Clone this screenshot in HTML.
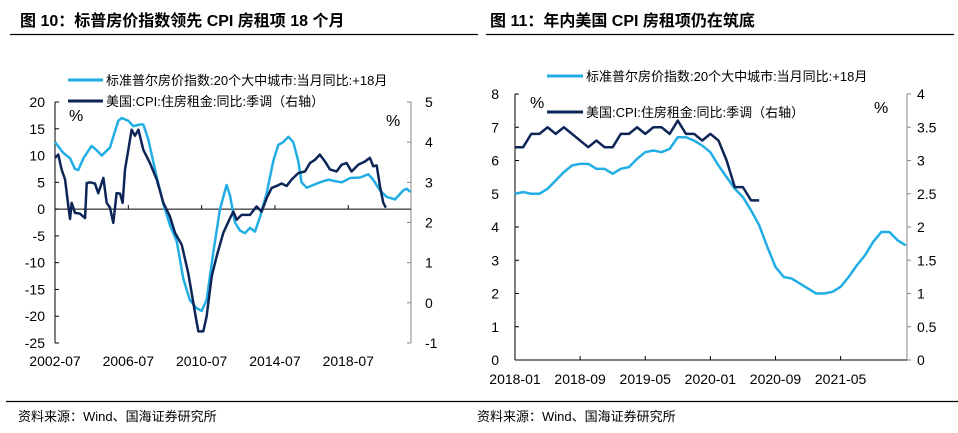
<!DOCTYPE html>
<html><head><meta charset="utf-8">
<style>
body{margin:0;background:#fff;}
svg{display:block;font-family:"Liberation Sans","Noto Sans CJK SC",sans-serif;}
</style></head>
<body>
<svg id="s" width="958" height="433" viewBox="0 0 958 433" xmlns="http://www.w3.org/2000/svg">
<text x="20" y="26" font-size="16" font-weight="bold">图 10：标普房价指数领先 CPI 房租项 18 个月</text>
<line x1="10" y1="34.5" x2="478" y2="34.5" stroke="#000" stroke-width="1.2"/>
<text x="490" y="26" font-size="16" font-weight="bold">图 11：年内美国 CPI 房租项仍在筑底</text>
<line x1="486" y1="34.5" x2="954" y2="34.5" stroke="#000" stroke-width="1.2"/>
<line x1="6" y1="401.5" x2="958" y2="401.5" stroke="#000" stroke-width="1.2"/>
<text x="18" y="421" font-size="13">资料来源：Wind、国海证券研究所</text>
<text x="477" y="421" font-size="13">资料来源：Wind、国海证券研究所</text>
<g id="c1"></g>
<g id="c2"></g>
</svg>
<script>
// ---- Left chart data (decimal years) ----
const c1LightYears=[2002.50,2002.95,2003.32,2003.59,2003.77,2004.05,2004.50,2004.77,2005.05,2005.50,2005.95,2006.14,2006.50,2006.77,2007.14,2007.32,2007.59,2008.05,2008.41,2008.77,2009.14,2009.50,2009.86,2010.23,2010.50,2010.77,2011.14,2011.50,2011.86,2012.05,2012.32,2012.59,2012.86,2013.14,2013.41,2013.68,2014.05,2014.41,2014.68,2014.95,2015.23,2015.50,2015.77,2015.95,2016.23,2016.59,2016.95,2017.41,2017.68,2018.14,2018.59,2019.14,2019.59,2019.86,2020.23,2020.59,2021.05,2021.50,2021.68,2021.90];
const c1LightValues=[12.5,10.5,9.5,7.5,7.3,9.5,11.8,11.0,10.0,11.5,16.5,17.0,16.5,15.5,15.8,15.8,13,6,1,-3,-6,-13,-17,-18.5,-19,-17,-8,0,4.5,2.5,-2.5,-4,-4.5,-3.5,-4.2,-1.5,3,9,12,12.5,13.5,12.5,9,5,4,4.5,5,5.5,5.3,5,5.8,5.9,6.5,5.5,3.5,2.3,1.8,3.5,3.8,3.2];
const c1DarkYears=[2002.50,2002.68,2002.86,2003.05,2003.23,2003.32,2003.41,2003.59,2003.86,2004.14,2004.23,2004.41,2004.68,2004.86,2005.14,2005.32,2005.50,2005.68,2005.86,2006.05,2006.19,2006.32,2006.50,2006.68,2006.86,2007.05,2007.32,2007.68,2008.05,2008.41,2008.77,2009.05,2009.41,2009.77,2010.14,2010.32,2010.59,2010.77,2011.05,2011.32,2011.68,2012.05,2012.23,2012.41,2012.68,2013.14,2013.50,2013.77,2014.05,2014.32,2014.59,2014.86,2015.14,2015.41,2015.77,2016.14,2016.41,2016.68,2016.95,2017.23,2017.50,2017.86,2018.14,2018.41,2018.68,2019.05,2019.41,2019.68,2019.86,2020.05,2020.23,2020.41,2020.55];
const c1DarkValues=[3.61,3.69,3.32,3.07,2.40,2.09,2.49,2.24,2.22,2.11,2.98,3.0,2.97,2.73,3.11,2.49,2.37,1.99,2.73,2.72,2.49,3.32,3.81,4.31,4.16,4.31,3.81,3.48,3.07,2.49,2.15,1.74,1.45,0.74,-0.25,-0.71,-0.71,-0.34,0.66,1.16,1.74,2.11,2.27,2.07,2.19,2.19,2.40,2.27,2.61,2.86,2.91,2.97,2.91,3.07,3.23,3.27,3.48,3.56,3.69,3.52,3.32,3.27,3.44,3.48,3.27,3.44,3.52,3.61,3.40,3.42,2.90,2.49,2.37];
const c1LeftTicks=[20,15,10,5,0,-5,-10,-15,-20,-25];
const c1RightTicks=[5,4,3,2,1,0,-1];
const c1XTickLabels=["2002-07","2006-07","2010-07","2014-07","2018-07"];
const c1XTickYears=[2002.5,2006.5,2010.5,2014.5,2018.5];
// ---- Right chart data (month index from 2018-01) ----
const c2LightValues=[5.0,5.05,5.0,5.0,5.15,5.4,5.65,5.85,5.9,5.9,5.75,5.75,5.6,5.75,5.8,6.05,6.25,6.3,6.25,6.35,6.7,6.7,6.6,6.45,6.25,5.85,5.5,5.15,4.9,4.5,4.05,3.4,2.8,2.5,2.45,2.3,2.15,2.0,2.0,2.05,2.2,2.5,2.85,3.15,3.55,3.85,3.85,3.6,3.45];
const c2DarkValues=[3.2,3.2,3.4,3.4,3.5,3.4,3.5,3.4,3.3,3.2,3.3,3.2,3.2,3.4,3.4,3.5,3.4,3.5,3.5,3.4,3.6,3.4,3.4,3.3,3.4,3.3,3.0,2.6,2.6,2.4,2.4];
const c2LeftTicks=[8,7,6,5,4,3,2,1,0];
const c2RightTicks=["4","3.5","3","2.5","2","1.5","1","0.5","0"];
const c2XTickLabels=["2018-01","2018-09","2019-05","2020-01","2020-09","2021-05"];
const c2XTickMonths=[0,8,16,24,32,40];

const NS="http://www.w3.org/2000/svg";
function mk(parent,tag,attrs,text){const e=document.createElementNS(NS,tag);for(const k in attrs)e.setAttribute(k,attrs[k]);if(text!==undefined)e.textContent=text;parent.appendChild(e);return e;}
const LIGHT="#22aee5",DARK="#0d2557";

// ===== Left chart =====
(function(){
const g=document.getElementById('c1');
const X0=55,X1=411,Y0=102,Y1=343;
const xs=y=>X0+(y-2002.5)*18.33;
const yl=v=>Y0+(20-v)*(Y1-Y0)/45;
const yr=v=>Y0+(5-v)*(Y1-Y0)/6;
let ax=mk(g,'line',{x1:X0,y1:Y0,x2:X0,y2:Y1,stroke:'#000','stroke-width':1});

let ax2=mk(g,'line',{x1:X1,y1:Y0,x2:X1,y2:Y1,stroke:'#888','stroke-width':1});

let zl=mk(g,'line',{x1:X0,y1:yl(0),x2:X1,y2:yl(0),stroke:'#000','stroke-width':1});

c1LeftTicks.forEach(v=>{const y=yl(v);
 mk(g,'line',{x1:X0,y1:y,x2:X0+4,y2:y,stroke:'#000'});
 const t=mk(g,'text',{x:X0-10,y:y+5,'font-size':14,'text-anchor':'end'},String(v));
 });
c1RightTicks.forEach(v=>{const y=yr(v);
 mk(g,'line',{x1:X1-4,y1:y,x2:X1,y2:y,stroke:'#888'});
 const t=mk(g,'text',{x:X1+14,y:y+5,'font-size':14},String(v));
 });
c1XTickYears.forEach((yv,i)=>{const x=xs(yv);
 mk(g,'line',{x1:x,y1:yl(0),x2:x,y2:yl(0)-4,stroke:'#000'});
 const t=mk(g,'text',{x:x,y:366,'font-size':14,'text-anchor':'middle'},c1XTickLabels[i]);
 });
const pl=mk(g,'polyline',{points:c1LightYears.map((y,i)=>xs(y)+','+yl(c1LightValues[i])).join(' '),fill:'none',stroke:LIGHT,'stroke-width':2.5,'stroke-linejoin':'round'});

const pd=mk(g,'polyline',{points:c1DarkYears.map((y,i)=>xs(y)+','+yr(c1DarkValues[i])).join(' '),fill:'none',stroke:DARK,'stroke-width':2.5,'stroke-linejoin':'round'});

let l1=mk(g,'line',{x1:68,y1:80,x2:103,y2:80,stroke:LIGHT,'stroke-width':3});

let t1=mk(g,'text',{x:106,y:85,'font-size':13},'标准普尔房价指数:20个大中城市:当月同比:+18月');

let l2=mk(g,'line',{x1:68,y1:101,x2:103,y2:101,stroke:DARK,'stroke-width':3});

let t2=mk(g,'text',{x:106,y:106,'font-size':13},'美国:CPI:住房租金:同比:季调（右轴）');

let p1=mk(g,'text',{x:69,y:121,'font-size':16},'%');

let p2=mk(g,'text',{x:386,y:126,'font-size':16},'%');

})();

// ===== Right chart =====
(function(){
const g=document.getElementById('c2');
const X0=515,X1=907,Y0=94,Y1=360;
const xs=m=>X0+m*8.14;
const yl=v=>Y1-v*(Y1-Y0)/8;
const yr=v=>Y1-v*(Y1-Y0)/4;
let ax=mk(g,'line',{x1:X0,y1:Y0,x2:X0,y2:Y1,stroke:'#000'});

let ax2=mk(g,'line',{x1:X1,y1:Y0,x2:X1,y2:Y1,stroke:'#888'});

let xa=mk(g,'line',{x1:X0,y1:Y1,x2:X1,y2:Y1,stroke:'#000'});

c2LeftTicks.forEach(v=>{const y=yl(v);
 mk(g,'line',{x1:X0,y1:y,x2:X0+4,y2:y,stroke:'#000'});
 const t=mk(g,'text',{x:X0-16,y:y+5,'font-size':14,'text-anchor':'end'},String(v));
 });
c2RightTicks.forEach(v=>{const y=yr(parseFloat(v));
 mk(g,'line',{x1:X1,y1:y,x2:X1+4,y2:y,stroke:'#888'});
 const t=mk(g,'text',{x:X1+10,y:y+5,'font-size':14},v);
 });
c2XTickMonths.forEach((m,i)=>{const x=xs(m);
 mk(g,'line',{x1:x,y1:Y1,x2:x,y2:Y1-4,stroke:'#000'});
 const t=mk(g,'text',{x:x,y:384,'font-size':14,'text-anchor':'middle'},c2XTickLabels[i]);
 });
const pl=mk(g,'polyline',{points:c2LightValues.map((v,i)=>xs(i)+','+yl(v)).join(' '),fill:'none',stroke:LIGHT,'stroke-width':2.5,'stroke-linejoin':'round'});

const pd=mk(g,'polyline',{points:c2DarkValues.map((v,i)=>xs(i)+','+yr(v)).join(' '),fill:'none',stroke:DARK,'stroke-width':2.5,'stroke-linejoin':'round'});

let l1=mk(g,'line',{x1:547,y1:76,x2:583,y2:76,stroke:LIGHT,'stroke-width':3});

let t1=mk(g,'text',{x:586,y:81,'font-size':13},'标准普尔房价指数:20个大中城市:当月同比:+18月');

let l2=mk(g,'line',{x1:547,y1:112,x2:583,y2:112,stroke:DARK,'stroke-width':3});

let t2=mk(g,'text',{x:586,y:117,'font-size':13},'美国:CPI:住房租金:同比:季调（右轴）');

let p1=mk(g,'text',{x:530,y:108,'font-size':16},'%');

let p2=mk(g,'text',{x:874,y:113,'font-size':16},'%');

})();
</script>
</body></html>
